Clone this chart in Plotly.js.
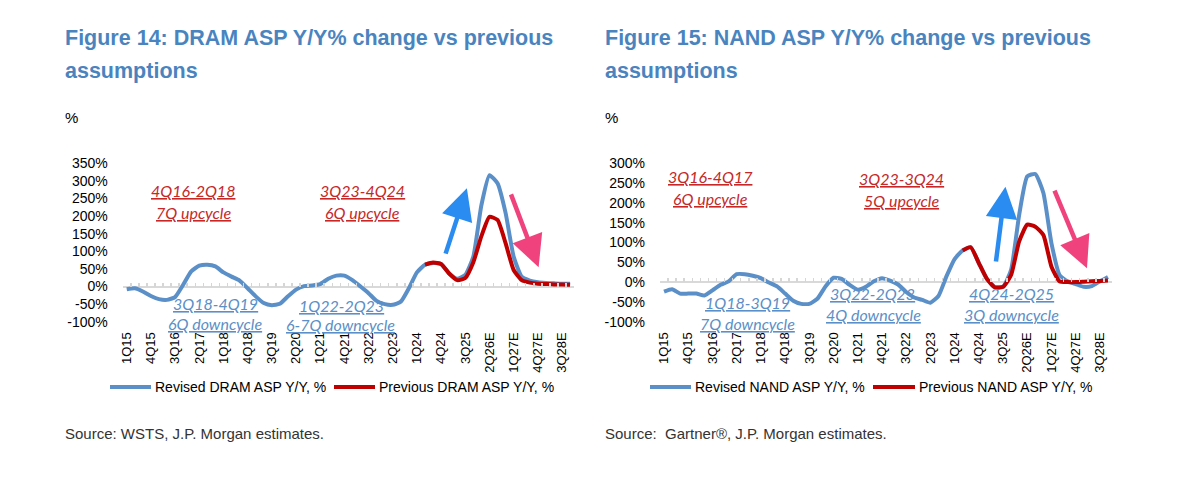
<!DOCTYPE html>
<html>
<head>
<meta charset="utf-8">
<script src="https://cdn.plot.ly/plotly-3.0.1.min.js"></script>
<style>
  html, body { margin: 0; padding: 0; background: #fff; }
  #chart { width: 1200px; height: 479px; }
</style>
</head>
<body>
<div id="chart"></div>
<script>
// Quarter categories (actuals to 3Q25, estimates after)
const quarters = [
  '1Q15', '2Q15', '3Q15', '4Q15', '1Q16', '2Q16', '3Q16', '4Q16',
  '1Q17', '2Q17', '3Q17', '4Q17', '1Q18', '2Q18', '3Q18', '4Q18',
  '1Q19', '2Q19', '3Q19', '4Q19', '1Q20', '2Q20', '3Q20', '4Q20',
  '1Q21', '2Q21', '3Q21', '4Q21', '1Q22', '2Q22', '3Q22', '4Q22',
  '1Q23', '2Q23', '3Q23', '4Q23', '1Q24', '2Q24', '3Q24', '4Q24',
  '1Q25', '2Q25', '3Q25', '4Q25E', '1Q26E', '2Q26E', '3Q26E', '4Q26E',
  '1Q27E', '2Q27E', '3Q27E', '4Q27E', '1Q28E', '2Q28E', '3Q28E', '4Q28E'
];

// DRAM ASP Y/Y %
const dramRevised = [
  -8, -5, -14, -27, -36, -38, -30, 5,
  43, 59, 62, 57, 40, 28, 17, -5,
  -28, -47, -53, -49, -28, -9, 1, 3,
  7, 22, 31, 31, 18, 0, -19, -41,
  -50, -52, -43, -5, 40, 62, 67, 64,
  37, 22, 33, 85, 231, 316, 293, 209,
  85, 28, 17, 12, 10, 9, 8, 8
];
const dramPrevious = [
  null, null, null, null, null, null, null, null,
  null, null, null, null, null, null, null, null,
  null, null, null, null, null, null, null, null,
  null, null, null, null, null, null, null, null,
  null, null, null, null, null, 62, 68, 64,
  37, 18, 24, 69, 143, 198, 189, 123,
  47, 18, 11, 8, 7, 6, 6, 5
];

// NAND ASP Y/Y %
const nandRevised = [
  -24, -18, -29, -29, -29, -34, -21, -7,
  2, 20, 20, 16, 10, -1, -11, -29,
  -47, -55, -55, -42, -11, 11, 8, -7,
  -19, -12, 2, 10, 4, -6, -25, -39,
  -45, -52, -35, 15, 58, 80, 88, 48,
  8, -13, -12, 31, 170, 267, 273, 225,
  98, 18, 2, -5, -12, -10, 2, 13
];
const nandPrevious = [
  null, null, null, null, null, null, null, null,
  null, null, null, null, null, null, null, null,
  null, null, null, null, null, null, null, null,
  null, null, null, null, null, null, null, null,
  null, null, null, null, null, 80, 88, 48,
  8, -13, -12, 18, 103, 145, 140, 119,
  39, 2, 0, 0, 1, 2, 3, 4
];

// y tick values, labels written with a plain hyphen as in the source
const dramTicks = [-100, -50, 0, 50, 100, 150, 200, 250, 300, 350];
const dramTickText = ['-100%', '-50%', '0%', '50%', '100%', '150%', '200%', '250%', '300%', '350%'];
const nandTicks = [-100, -50, 0, 50, 100, 150, 200, 250, 300];
const nandTickText = ['-100%', '-50%', '0%', '50%', '100%', '150%', '200%', '250%', '300%'];

const dramRange = [-100, 350];
const nandRange = [-100, 300];

const W = 1200, H = 479;
const px = x => x / W;
const py = y => 1 - y / H;

const BLUE = '#5B8FC7';
const RED = '#C00000';
const TITLE_BLUE = '#4A84BF';
const ARROW_BLUE = '#2A8CF0';
const ARROW_PINK = '#F0437D';
const SANS = '"Liberation Sans", Arial, Helvetica, sans-serif';
const NOTE = 'Lato, "Open Sans", sans-serif';

const yDom = [py(321.7), py(163.3)];
const dramDom = [px(122.7), px(574.1)];
const nandDom = [px(660), px(1112)];

function zeroPos(range) {
    return yDom[0] + (0 - range[0]) / (range[1] - range[0]) * (yDom[1] - yDom[0]);
}

const shownTicks = quarters.filter((q, i) => i % 3 === 0);
const idx = quarters.map((q, i) => i);

function catAxis(domain, anchor) {
    return {
        domain: domain, anchor: anchor, type: 'category',
        categoryarray: quarters, range: [-0.5, quarters.length - 0.5],
        tickmode: 'array', tickvals: shownTicks, ticktext: shownTicks,
        tickangle: -90, ticks: '', ticklabelstandoff: 7,
        tickfont: { family: SANS, size: 13, color: '#000' },
        showgrid: false, zeroline: false, showline: false, fixedrange: true
    };
}

function valAxis(range, anchor, vals, labels) {
    return {
        domain: yDom, anchor: anchor, range: range,
        tickmode: 'array', tickvals: vals, ticktext: labels,
        ticks: '', ticklabelstandoff: 14,
        tickfont: { family: SANS, size: 14, color: '#000' },
        showgrid: false, showline: false,
        zeroline: true, zerolinecolor: '#D9D9D9', zerolinewidth: 2,
        fixedrange: true
    };
}

// small tick marks along the 0% line, one per quarter
function tickStrip(base, range) {
    return {
        overlaying: base, anchor: 'free', position: zeroPos(range),
        range: [-0.5, quarters.length - 0.5], tick0: -0.5, dtick: 1,
        ticks: 'inside', ticklen: 4, tickwidth: 1.5, tickcolor: '#D6D6D6',
        showticklabels: false, showgrid: false, zeroline: false, showline: false
    };
}

const traces = [
    { x: idx, y: dramRevised, xaxis: 'x3', yaxis: 'y', mode: 'none', hoverinfo: 'skip' },
    { x: idx, y: nandRevised, xaxis: 'x4', yaxis: 'y2', mode: 'none', hoverinfo: 'skip' },
    {
        name: 'Revised DRAM ASP Y/Y, %', x: quarters, y: dramRevised, xaxis: 'x', yaxis: 'y',
        mode: 'lines', line: { color: BLUE, width: 4, shape: 'spline', smoothing: 0.5 }
    },
    {
        name: 'Previous DRAM ASP Y/Y, %', x: quarters, y: dramPrevious, xaxis: 'x', yaxis: 'y',
        mode: 'lines', line: { color: RED, width: 4, shape: 'spline', smoothing: 0.5 }
    },
    {
        name: 'Revised NAND ASP Y/Y, %', x: quarters, y: nandRevised, xaxis: 'x2', yaxis: 'y2',
        mode: 'lines', line: { color: BLUE, width: 4, shape: 'spline', smoothing: 0.5 }
    },
    {
        name: 'Previous NAND ASP Y/Y, %', x: quarters, y: nandPrevious, xaxis: 'x2', yaxis: 'y2',
        mode: 'lines', line: { color: RED, width: 4, shape: 'spline', smoothing: 0.5 }
    }
];

function text(str, x, y, font, anchor) {
    return {
        text: str, xref: 'paper', yref: 'paper', x: px(x), y: py(y),
        xanchor: anchor || 'left', yanchor: 'middle', showarrow: false, font: font
    };
}

const titleFont = { family: SANS, size: 21.5, color: TITLE_BLUE, weight: 700 };
const pctFont = { family: SANS, size: 15, color: '#000' };
const legFont = { family: SANS, size: 14, color: '#000' };
const srcFont = { family: SANS, size: 15, color: '#333' };
const upFont = { family: NOTE, size: 16, color: '#C62828', style: 'italic', lineposition: 'under' };
const downFont = { family: NOTE, size: 16, color: BLUE, style: 'italic', lineposition: 'under' };

function arrow(xr, yr, tip, tail, color) {
    return {
        xref: xr, yref: yr, axref: xr, ayref: yr,
        x: tip[0], y: tip[1], ax: tail[0], ay: tail[1],
        text: '', showarrow: true, arrowhead: 2, arrowsize: 1.4,
        arrowwidth: 4.5, arrowcolor: color, standoff: 0, startstandoff: 0
    };
}

const annotations = [
    // titles
    text('Figure 14: DRAM ASP Y/Y% change vs previous', 63, 38, titleFont),
    text('assumptions', 63, 71, titleFont),
    text('Figure 15: NAND ASP Y/Y% change vs previous', 603, 38, titleFont),
    text('assumptions', 603, 71, titleFont),
    text('%', 63, 117, pctFont),
    text('%', 603, 117, pctFont),

    // DRAM cycle notes
    text('4Q16-2Q18', 193, 191, upFont, 'center'),
    text('7Q upcycle', 193, 212, upFont, 'center'),
    text('3Q23-4Q24', 362, 191, upFont, 'center'),
    text('6Q upcycle', 362, 212, upFont, 'center'),
    text('3Q18-4Q19', 215, 303, downFont, 'center'),
    text('6Q downcycle', 215, 323, downFont, 'center'),
    text('1Q22-2Q23', 341, 305, downFont, 'center'),
    text('6-7Q downcycle', 340, 324, downFont, 'center'),

    // NAND cycle notes
    text('3Q16-4Q17', 710, 177, upFont, 'center'),
    text('6Q upcycle', 710, 198, upFont, 'center'),
    text('3Q23-3Q24', 901, 178, upFont, 'center'),
    text('5Q upcycle', 901, 200, upFont, 'center'),
    text('1Q18-3Q19', 747, 302, downFont, 'center'),
    text('7Q downcycle', 747, 323, downFont, 'center'),
    text('3Q22-2Q23', 872, 293, downFont, 'center'),
    text('4Q downcycle', 873, 314, downFont, 'center'),
    text('4Q24-2Q25', 1011, 293, downFont, 'center'),
    text('3Q downcycle', 1011, 314, downFont, 'center'),

    // up / down arrows
    arrow('x', 'y', [42.2, 279], [39.5, 89], ARROW_BLUE),
    arrow('x', 'y', [51.1, 55], [47.6, 266], ARROW_PINK),
    arrow('x2', 'y2', [42.3, 241], [41.1, 48], ARROW_BLUE),
    arrow('x2', 'y2', [52.4, 35], [48.3, 235], ARROW_PINK),

    // legends
    text('Revised DRAM ASP Y/Y, %', 153, 387, legFont),
    text('Previous DRAM ASP Y/Y, %', 377, 387, legFont),
    text('Revised NAND ASP Y/Y, %', 693, 387, legFont),
    text('Previous NAND ASP Y/Y, %', 917, 387, legFont),

    // sources
    text('Source: WSTS, J.P. Morgan estimates.', 63, 433, srcFont),
    text('Source:  Gartner®, J.P. Morgan estimates.', 603, 433, srcFont)
];

function legLine(x0, x1, color) {
    return {
        type: 'line', xref: 'paper', yref: 'paper',
        x0: px(x0), x1: px(x1), y0: py(387), y1: py(387),
        line: { color: color, width: 4 }
    };
}

const shapes = [
    legLine(110, 151, BLUE),
    legLine(334, 375, RED),
    legLine(650, 691, BLUE),
    legLine(873, 915, RED)
];

const layout = {
    width: W, height: H,
    margin: { l: 0, r: 0, t: 0, b: 0, pad: 0 },
    paper_bgcolor: '#fff', plot_bgcolor: 'rgba(0,0,0,0)',
    showlegend: false,
    xaxis: catAxis(dramDom, 'y'),
    yaxis: valAxis(dramRange, 'x', dramTicks, dramTickText),
    xaxis2: catAxis(nandDom, 'y2'),
    yaxis2: valAxis(nandRange, 'x2', nandTicks, nandTickText),
    xaxis3: tickStrip('x', dramRange),
    xaxis4: tickStrip('x2', nandRange),
    annotations: annotations,
    shapes: shapes
};

document.addEventListener('DOMContentLoaded', () => {
    Plotly.newPlot('chart', traces, layout, { staticPlot: true, displayModeBar: false });
});
</script>
</body>
</html>
